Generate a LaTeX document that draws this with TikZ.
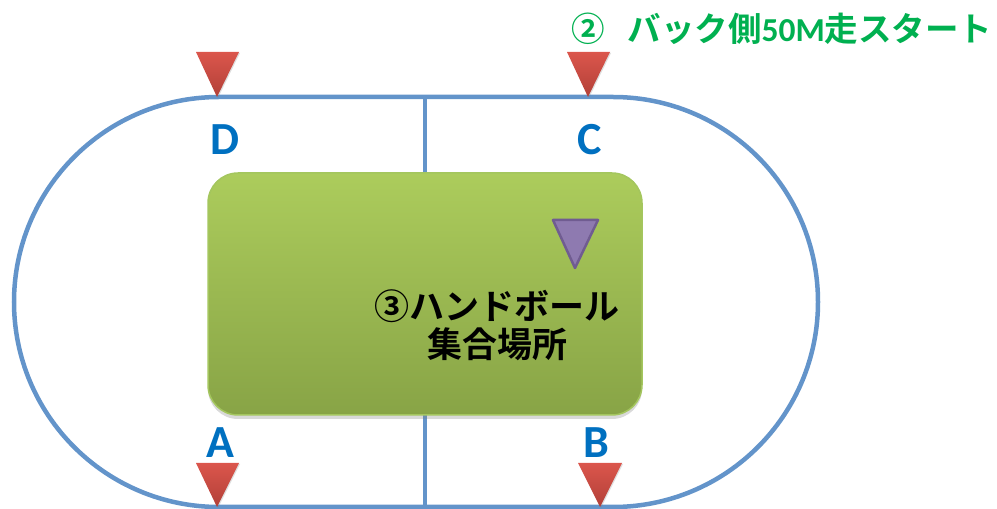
\documentclass[tikz,border=0pt]{standalone}
\usepackage{fontspec}
\setmainfont{Carlito}
\newfontfamily\cjk{Noto Sans CJK JP}[BoldFont={Noto Sans CJK JP Bold}]
\usetikzlibrary{shadows}
\definecolor{track}{RGB}{99,148,202}
\definecolor{lblblue}{RGB}{0,112,192}
\definecolor{titlegreen}{RGB}{0,176,80}
\definecolor{boxtop}{RGB}{172,204,92}
\definecolor{boxbot}{RGB}{136,164,70}
\definecolor{boxedge}{RGB}{164,198,94}
\definecolor{redtop}{RGB}{219,86,76}
\definecolor{redbot}{RGB}{178,64,56}
\definecolor{purfill}{RGB}{142,122,176}
\definecolor{puredge}{RGB}{112,92,145}
\tikzset{
  trackline/.style={draw=track, line width=4.5pt},
  marker/.style={top color=redtop, bottom color=redbot, draw=none,
    drop shadow={shadow xshift=1pt, shadow yshift=-1pt, opacity=0.25}},
  lbl/.style={text=lblblue, font=\fontsize{46}{46}\selectfont\bfseries, inner sep=0pt},
}
\begin{document}
\begin{tikzpicture}[x=1pt,y=1pt]
\useasboundingbox (0,0) rectangle (997,509);
% track
\draw[trackline] (219,412) -- (613,412) arc[start angle=90,end angle=-90,radius=205]
  -- (219,2) arc[start angle=270,end angle=90,radius=205] -- cycle;
\coordinate (ctop) at (425,412);
\coordinate (cbot) at (425,2);
\draw[trackline] (ctop) -- (cbot);
% assembly box
\node[draw=boxedge, line width=1.5pt, rounded corners=30pt, top color=boxtop, bottom color=boxbot,
  minimum width=434pt, minimum height=242pt, inner sep=0pt,
  drop shadow={shadow xshift=0pt, shadow yshift=-4pt, opacity=0.3}] (box) at (425,215) {};
\draw[fill=purfill, draw=puredge, line width=2.5pt, line join=round] (553,289) -- (598,289) -- (575,241) -- cycle;
\node[align=center, inner sep=0pt, font=\cjk\bfseries\fontsize{35}{38}\selectfont] (hand) at (497,184) {③ハンドボール\\集合場所};
% markers
\path[marker] (196,457) -- (239,457) -- (217,412) -- cycle;
\path[marker] (567,457) -- (610,457) -- (588,412) -- cycle;
\path[marker] (196,46) -- (239,46) -- (217,2) -- cycle;
\path[marker] (578,46) -- (622,46) -- (600,2) -- cycle;
% labels
\node[lbl] (D) at (225,369) {D};
\node[lbl] (C) at (590,369) {C};
\node[lbl] (A) at (220,66) {A};
\node[lbl] (B) at (596,66) {B};
% title
\node[anchor=west, inner sep=0pt, text=titlegreen, font=\bfseries\fontsize{33.5}{34}\selectfont] (title) at (571,480)
  {{\cjk ②}\hspace{23pt}{\cjk バック側}50M{\cjk 走スタート}};
\end{tikzpicture}
\end{document}
